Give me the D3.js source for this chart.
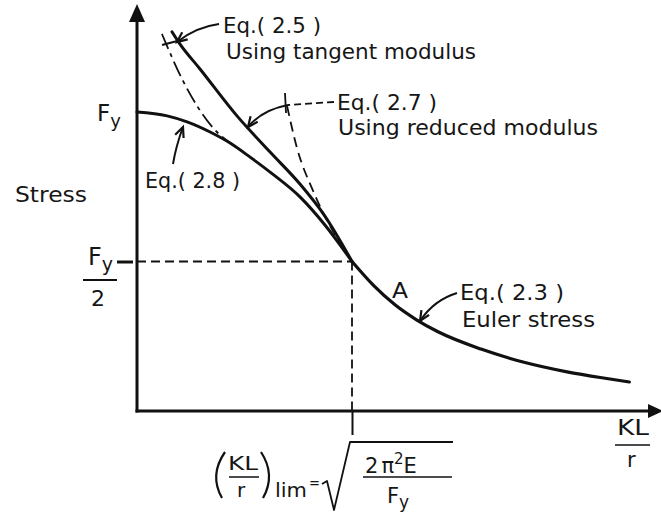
<!DOCTYPE html>
<html>
<head>
<meta charset="utf-8">
<script src="https://cdn.jsdelivr.net/npm/d3@7"></script>
<style>
  html, body { margin: 0; padding: 0; background: #fff; }
  svg { display: block; }
  text { font-family: "DejaVu Sans", sans-serif; fill: #161616; }
</style>
</head>
<body>
<svg id="chart" width="661" height="515"></svg>
<script>
// Slenderness as a fraction of (KL/r)lim, stress as a fraction of Fy
const eulerCurve    = [[1.0, 0.5], [1.1, 0.42], [1.2, 0.355], [1.3, 0.305], [1.4, 0.265], [1.6, 0.207], [1.8, 0.163], [2.0, 0.131], [2.2, 0.107], [2.29, 0.097]];
const eq28Curve     = [[0.0, 1.0], [0.14, 0.987], [0.233, 0.967], [0.34, 0.933], [0.433, 0.896], [0.526, 0.849], [0.619, 0.799], [0.758, 0.716], [0.874, 0.622], [1.0, 0.5]];
const tangentCurve  = [[0.163, 1.268], [0.2, 1.227], [0.293, 1.144], [0.465, 0.987], [0.619, 0.866], [0.758, 0.759], [0.874, 0.652], [1.0, 0.5]];
const upperDashed   = [[0.116, 1.261], [0.214, 1.104], [0.35, 0.95], [0.465, 0.881]];
const reducedDashed = [[0.698, 1.02], [0.744, 0.88], [0.819, 0.736], [0.93, 0.579], [0.97, 0.535]];
const stressTicks   = [0.5];
const slenderTicks  = [1.0];

const svg = d3.select("#chart");
const x = d3.scaleLinear().domain([0, 1]).range([137, 352]);
const y = d3.scaleLinear().domain([0, 1]).range([411, 112]);
const ink = "#111";

// Reference lines to the limit point
svg.append("line")
  .attr("x1", x(0)).attr("x2", x(1)).attr("y1", y(0.5)).attr("y2", y(0.5))
  .attr("stroke", ink).attr("stroke-width", 2).attr("stroke-dasharray", "9,5");
svg.append("line")
  .attr("x1", x(1)).attr("x2", x(1)).attr("y1", y(0.5)).attr("y2", y(0))
  .attr("stroke", ink).attr("stroke-width", 1.8).attr("stroke-dasharray", "9,5");

// Axes built from the scales, with hand-drawn arrowed domain lines
const yAxis = d3.axisLeft(y).tickValues(stressTicks).tickSize(20).tickFormat("");
const gy = svg.append("g").attr("transform", `translate(${x(0)},0)`).call(yAxis);
gy.select(".domain").remove();
gy.selectAll(".tick line").attr("stroke", ink).attr("stroke-width", 3).attr("x1", -4);

const xAxis = d3.axisBottom(x).tickValues(slenderTicks).tickSize(24).tickFormat("");
const gx = svg.append("g").attr("transform", `translate(0,${y(0)})`).call(xAxis);
gx.select(".domain").remove();
gx.selectAll(".tick line").attr("stroke", ink).attr("stroke-width", 2);

svg.append("line").attr("x1", x(0)).attr("x2", x(0)).attr("y1", y(0) + 1.5).attr("y2", 18)
  .attr("stroke", ink).attr("stroke-width", 3);
svg.append("path").attr("d", `M${x(0)},4 L${x(0) - 8},22 L${x(0) + 8},22 Z`).attr("fill", ink);
svg.append("line").attr("x1", x(0) - 1.5).attr("x2", 650).attr("y1", y(0)).attr("y2", y(0))
  .attr("stroke", ink).attr("stroke-width", 3);
svg.append("path").attr("d", `M663,${y(0)} L648,${y(0) - 7} L648,${y(0) + 7} Z`).attr("fill", ink);

// Column curves
const line = d3.line().x(d => x(d[0])).y(d => y(d[1])).curve(d3.curveMonotoneX);
svg.append("path").datum(eulerCurve).attr("d", line)
  .attr("fill", "none").attr("stroke", ink).attr("stroke-width", 3.2).attr("stroke-linecap", "round");
svg.append("path").datum(eq28Curve).attr("d", line)
  .attr("fill", "none").attr("stroke", ink).attr("stroke-width", 3).attr("stroke-linecap", "round");
svg.append("path").datum(tangentCurve).attr("d", line)
  .attr("fill", "none").attr("stroke", ink).attr("stroke-width", 3).attr("stroke-linecap", "round");
svg.append("path").datum(upperDashed).attr("d", line)
  .attr("fill", "none").attr("stroke", ink).attr("stroke-width", 1.8).attr("stroke-dasharray", "16,5,4,5");
svg.append("path").datum(reducedDashed).attr("d", line)
  .attr("fill", "none").attr("stroke", ink).attr("stroke-width", 1.8).attr("stroke-dasharray", "10,6");

// Small end ticks on the upper curves
svg.append("line").attr("x1", 162).attr("y1", 45).attr("x2", 181).attr("y2", 40)
  .attr("stroke", ink).attr("stroke-width", 2);
svg.append("line").attr("x1", 285).attr("y1", 93).attr("x2", 286).attr("y2", 113)
  .attr("stroke", ink).attr("stroke-width", 1.8);

// Leader arrows
function leader(d, tip, from) {
  svg.append("path").attr("d", d).attr("fill", "none").attr("stroke", ink).attr("stroke-width", 2);
  const ang = Math.atan2(from[1] - tip[1], from[0] - tip[0]);
  const L = 11, s = 0.42;
  const p1 = [tip[0] + L * Math.cos(ang + s), tip[1] + L * Math.sin(ang + s)];
  const p2 = [tip[0] + L * Math.cos(ang - s), tip[1] + L * Math.sin(ang - s)];
  svg.append("path").attr("d", `M${p1} L${tip} L${p2}`).attr("fill", "none")
    .attr("stroke", ink).attr("stroke-width", 2.2);
}
leader("M219,24 Q196,27 177,42", [177, 42], [190, 32]);
svg.append("path").attr("d", "M334,102 L288,105").attr("fill", "none").attr("stroke", ink)
  .attr("stroke-width", 1.8).attr("stroke-dasharray", "7,4");
leader("M288,105 Q262,110 248,127", [248, 127], [258, 114]);
leader("M173,164 Q176,146 183,127", [183, 127], [178, 140]);
leader("M457,293 Q434,300 420,321", [420, 321], [428, 308]);

// Labels
function label(txt, x0, base, width, size) {
  const t = svg.append("text").attr("x", x0).attr("y", base).attr("font-size", size).text(txt);
  if (width) t.attr("textLength", width).attr("lengthAdjust", "spacingAndGlyphs");
  return t;
}
label("Eq.( 2.5 )", 223, 33, 98, 21);
label("Using tangent modulus", 226, 59, 250, 21);
label("Eq.( 2.7 )", 337, 110, 100, 21);
label("Using reduced modulus", 338, 135, 260, 21);
label("Eq.( 2.8 )", 145, 188, 95, 21);
label("Stress", 15, 202, 72, 21);
label("A", 392, 298, 16, 21);
label("Eq.( 2.3 )", 460, 300, 104, 21);
label("Euler stress", 462, 327, 133, 21);

// Fy at the top of the stress axis
const fy = svg.append("text").attr("x", 97).attr("y", 121).attr("font-size", 23);
fy.append("tspan").text("F");
fy.append("tspan").attr("font-size", 18).attr("dy", 6).text("y");

// Fy / 2
const fy2 = svg.append("text").attr("x", 88).attr("y", 265).attr("font-size", 24);
fy2.append("tspan").text("F");
fy2.append("tspan").attr("font-size", 19).attr("dy", 6).text("y");
svg.append("line").attr("x1", 83).attr("x2", 117).attr("y1", 280).attr("y2", 280)
  .attr("stroke", ink).attr("stroke-width", 2);
label("2", 91, 306, null, 22);

// Horizontal axis label KL / r
label("KL", 617, 435, 32, 21);
svg.append("line").attr("x1", 615).attr("x2", 650).attr("y1", 445).attr("y2", 445)
  .attr("stroke", ink).attr("stroke-width", 1.6);
label("r", 627, 467, null, 21);

// (KL/r)lim = sqrt(2 pi^2 E / Fy)
svg.append("path").attr("d", "M225,452 Q209,475 222,498").attr("fill", "none")
  .attr("stroke", ink).attr("stroke-width", 2.2);
label("KL", 228, 470, 30, 20);
svg.append("line").attr("x1", 229).attr("x2", 259).attr("y1", 477).attr("y2", 477)
  .attr("stroke", ink).attr("stroke-width", 1.5);
label("r", 237, 497, null, 20);
svg.append("path").attr("d", "M261,452 Q276,475 263,498").attr("fill", "none")
  .attr("stroke", ink).attr("stroke-width", 2.2);
label("lim", 275, 497, 32, 20);
label("=", 309, 488, 11, 14);
svg.append("path").attr("d", "M322,484 L327,481 L334,510 L350,442 L453,442").attr("fill", "none")
  .attr("stroke", ink).attr("stroke-width", 1.8).attr("stroke-linejoin", "round");
const num = svg.append("text").attr("x", 365).attr("y", 473).attr("font-size", 21);
num.append("tspan").text("2");
num.append("tspan").attr("dx", 3).text("π");
num.append("tspan").attr("font-size", 15).attr("dy", -9).text("2");
num.append("tspan").attr("dy", 9).text("E");
svg.append("line").attr("x1", 363).attr("x2", 452).attr("y1", 477).attr("y2", 477)
  .attr("stroke", ink).attr("stroke-width", 1.5);
const den = svg.append("text").attr("x", 387).attr("y", 503).attr("font-size", 21);
den.append("tspan").text("F");
den.append("tspan").attr("font-size", 17).attr("dy", 5).text("y");
</script>
</body>
</html>
